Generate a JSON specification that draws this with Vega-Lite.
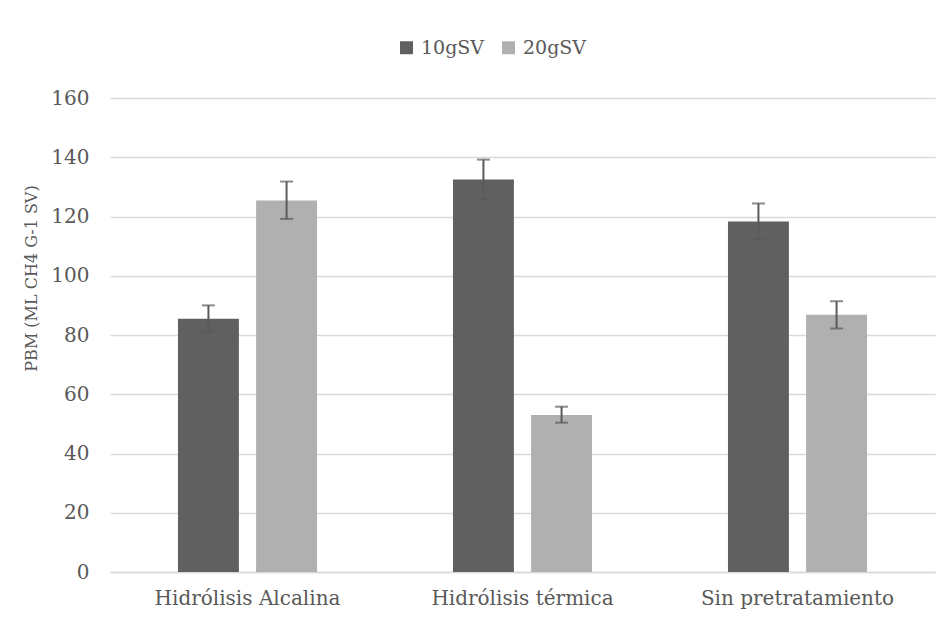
{
  "$schema": "https://vega.github.io/schema/vega-lite/v6.json",
  "width": 825,
  "height": 474,
  "autosize": {"type": "none"},
  "padding": {"left": 110, "top": 98, "right": 17, "bottom": 70},
  "background": "white",
  "config": {
    "font": "DejaVu Serif",
    "view": {"stroke": null},
    "axis": {"labelColor": "#595959", "titleColor": "#595959", "labelFont": "DejaVu Serif", "titleFont": "DejaVu Serif"},
    "legend": {"labelColor": "#595959", "labelFont": "DejaVu Serif"}
  },
  "data": {
    "values": [
      {"tratamiento": "Hidrólisis Alcalina", "serie": "10gSV", "pbm": 85.5, "low": 81.2, "high": 90.0},
      {"tratamiento": "Hidrólisis Alcalina", "serie": "20gSV", "pbm": 125.4, "low": 119.2, "high": 131.8},
      {"tratamiento": "Hidrólisis térmica", "serie": "10gSV", "pbm": 132.5, "low": 125.9, "high": 139.2},
      {"tratamiento": "Hidrólisis térmica", "serie": "20gSV", "pbm": 53.0, "low": 50.4, "high": 55.8},
      {"tratamiento": "Sin pretratamiento", "serie": "10gSV", "pbm": 118.3, "low": 112.4, "high": 124.4},
      {"tratamiento": "Sin pretratamiento", "serie": "20gSV", "pbm": 86.8, "low": 82.2, "high": 91.4}
    ]
  },
  "encoding": {
    "x": {
      "field": "tratamiento",
      "type": "nominal",
      "sort": null,
      "scale": {"paddingInner": 0, "paddingOuter": 0},
      "axis": {
        "title": null,
        "labelAngle": 0,
        "labelFontSize": 20,
        "labelPadding": 16,
        "labelLimit": 0,
        "labelOverlap": false,
        "ticks": false,
        "domainColor": "#d9d9d9",
        "domainWidth": 1.5
      }
    },
    "xOffset": {
      "field": "serie",
      "type": "nominal",
      "scale": {"paddingInner": 0.22, "paddingOuter": 0.87}
    }
  },
  "layer": [
    {
      "mark": {"type": "bar"},
      "encoding": {
        "y": {
          "field": "pbm",
          "type": "quantitative",
          "scale": {"domain": [0, 160]},
          "axis": {
            "title": "PBM (ML CH4 G-1 SV)",
            "titleFontSize": 16,
            "titleFontWeight": "normal",
            "titlePadding": 11,
            "titleY": 180,
            "labelFontSize": 20,
            "labelPadding": 21,
            "labelOverlap": false,
            "values": [0, 20, 40, 60, 80, 100, 120, 140, 160],
            "domain": false,
            "ticks": false,
            "gridColor": "#d9d9d9",
            "gridWidth": 1.5
          }
        },
        "color": {
          "field": "serie",
          "type": "nominal",
          "scale": {"domain": ["10gSV", "20gSV"], "range": ["#606060", "#b0b0b0"]},
          "legend": {
            "title": null,
            "orient": "none",
            "direction": "horizontal",
            "legendX": 287,
            "legendY": -60,
            "symbolType": "square",
            "symbolSize": 169,
            "symbolStrokeWidth": 0,
            "labelFontSize": 19,
            "labelOffset": 5,
            "columnPadding": 14,
            "padding": 0
          }
        }
      }
    },
    {
      "mark": {"type": "rule", "color": "#5a5a5a", "strokeWidth": 2},
      "encoding": {
        "y": {"field": "low", "type": "quantitative"},
        "y2": {"field": "high"}
      }
    },
    {
      "mark": {"type": "tick", "color": "#5a5a5a", "size": 13, "thickness": 2},
      "encoding": {
        "y": {"field": "low", "type": "quantitative"}
      }
    },
    {
      "mark": {"type": "tick", "color": "#5a5a5a", "size": 13, "thickness": 2},
      "encoding": {
        "y": {"field": "high", "type": "quantitative"}
      }
    }
  ]
}
